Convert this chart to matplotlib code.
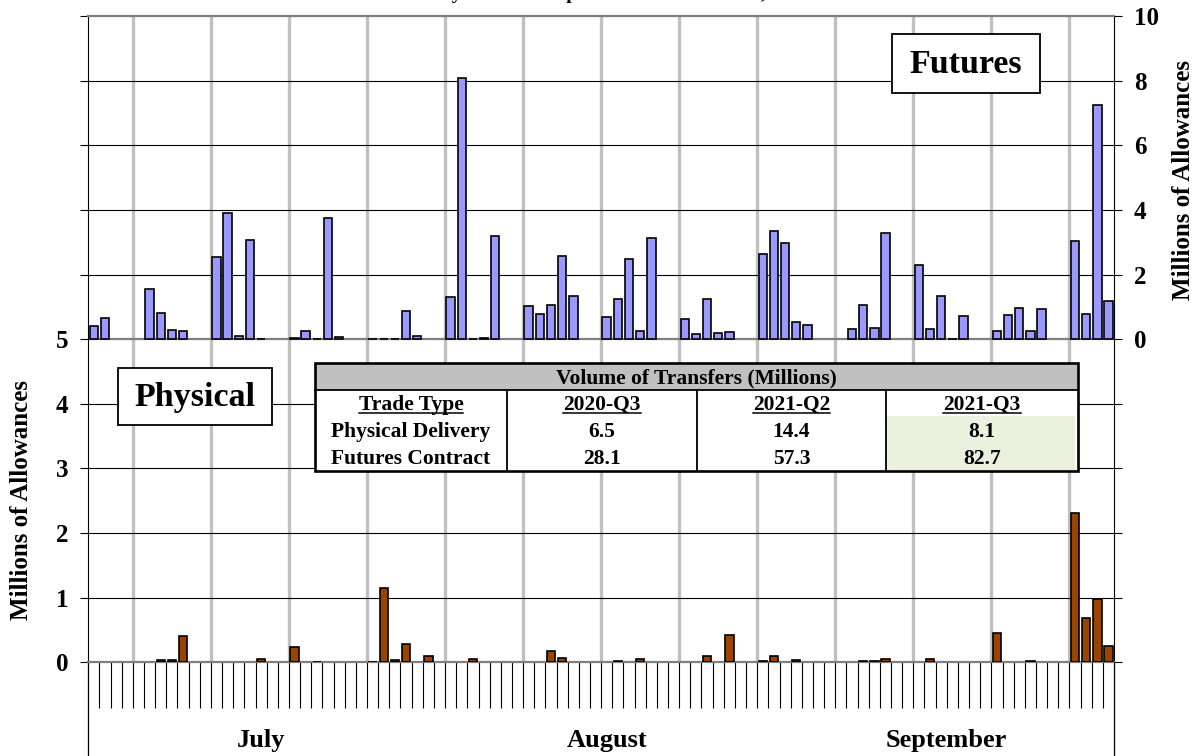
import numpy as np
import pandas as pd
import matplotlib
matplotlib.use("Agg")
import matplotlib.pyplot as plt
from matplotlib.patches import Rectangle

# ------------------------------------------------------------------ data
quarter_start = "2021-07-01"
quarter_end = "2021-09-30"
month_names = ["July", "August", "September"]
title_text = "Daily Volume of Spot and Futures Trades, 2021"

futures_dates = [
    "2021-07-01", "2021-07-02", "2021-07-06", "2021-07-07", "2021-07-08", "2021-07-09",
    "2021-07-12", "2021-07-13", "2021-07-14", "2021-07-15", "2021-07-16",
    "2021-07-19", "2021-07-20", "2021-07-21", "2021-07-22", "2021-07-23",
    "2021-07-26", "2021-07-27", "2021-07-28", "2021-07-29", "2021-07-30",
    "2021-08-02", "2021-08-03", "2021-08-04", "2021-08-05", "2021-08-06",
    "2021-08-09", "2021-08-10", "2021-08-11", "2021-08-12", "2021-08-13",
    "2021-08-16", "2021-08-17", "2021-08-18", "2021-08-19", "2021-08-20",
    "2021-08-23", "2021-08-24", "2021-08-25", "2021-08-26", "2021-08-27",
    "2021-08-30", "2021-08-31", "2021-09-01", "2021-09-02", "2021-09-03",
    "2021-09-07", "2021-09-08", "2021-09-09", "2021-09-10",
    "2021-09-13", "2021-09-14", "2021-09-15", "2021-09-16", "2021-09-17",
    "2021-09-20", "2021-09-21", "2021-09-22", "2021-09-23", "2021-09-24",
    "2021-09-27", "2021-09-28", "2021-09-29", "2021-09-30",
]
futures_volume = [
    0.40, 0.64, 1.54, 0.81, 0.28, 0.26,
    2.54, 3.89, 0.09, 3.06, 0.02,
    0.04, 0.24, 0.02, 3.76, 0.08,
    0.01, 0.01, 0.01, 0.87, 0.09,
    1.29, 8.08, 0.02, 0.03, 3.20,
    1.02, 0.79, 1.06, 2.58, 1.34,
    0.69, 1.23, 2.47, 0.25, 3.13,
    0.62, 0.15, 1.25, 0.19, 0.21,
    2.62, 3.34, 2.99, 0.52, 0.44,
    0.31, 1.05, 0.33, 3.27,
    2.29, 0.31, 1.34, 0.02, 0.72,
    0.25, 0.74, 0.97, 0.25, 0.93,
    3.05, 0.77, 7.25, 1.18,
]

physical_dates = [
    "2021-07-07", "2021-07-08", "2021-07-09", "2021-07-16", "2021-07-19", "2021-07-21",
    "2021-07-26", "2021-07-27", "2021-07-28", "2021-07-29", "2021-07-31",
    "2021-08-04", "2021-08-11", "2021-08-12", "2021-08-17", "2021-08-19", "2021-08-25",
    "2021-08-27", "2021-08-30", "2021-08-31",
    "2021-09-02", "2021-09-08", "2021-09-09", "2021-09-10", "2021-09-14", "2021-09-20",
    "2021-09-23", "2021-09-27", "2021-09-28", "2021-09-29", "2021-09-30",
]
physical_volume = [
    0.03, 0.03, 0.41, 0.05, 0.23, 0.01,
    0.01, 1.15, 0.03, 0.29, 0.09,
    0.05, 0.18, 0.06, 0.02, 0.05, 0.10,
    0.42, 0.02, 0.10,
    0.04, 0.02, 0.02, 0.05, 0.05, 0.46,
    0.02, 2.31, 0.69, 0.98, 0.25,
]

left_tick_values = [0, 1, 2, 3, 4, 5]
right_tick_values = [0, 2, 4, 6, 8, 10]

table_title = "Volume of Transfers (Millions)"
table_columns = ["Trade Type", "2020-Q3", "2021-Q2", "2021-Q3"]
table_row_names = ["Physical Delivery", "Futures Contract"]
physical_totals = ["6.5", "14.4", "8.1"]
futures_totals = ["28.1", "57.3", "82.7"]

# ------------------------------------------------------------------ style
W, H = 1199, 756
SERIF = ["Liberation Serif", "DejaVu Serif"]
FUT_COLOR = "#9999FF"
PHYS_COLOR = "#994400"
WEEK_COLOR = "#C0C0C0"

fig = plt.figure(figsize=(W / 100, H / 100), dpi=100)
fig.patch.set_facecolor("white")

px_l, px_r, px_t, px_b = 88.3, 1114.0, 16.0, 662.3
ax = fig.add_axes([px_l / W, 1 - px_b / H, (px_r - px_l) / W, (px_b - px_t) / H])
ax2 = ax.twinx()

days = pd.date_range(quarter_start, quarter_end, freq="D")
n_days = len(days)
start = pd.Timestamp(quarter_start)

def to_pos(dates):
    return np.array([(pd.Timestamp(d) - start).days for d in dates]) + 0.5

ax.set_xlim(0, n_days)
ax.set_ylim(0, 10)
ax2.set_ylim(-10, 10)

# week separators (before Mondays)
week_edges = [i for i, d in enumerate(days) if d.weekday() == 0]
for e in week_edges:
    ax.axvline(e, color=WEEK_COLOR, lw=2.4, zorder=0.5)

# horizontal gridlines
for lv in range(1, 10):
    if lv == 5:
        ax.axhline(lv, color="#7f7f7f", lw=1.6, zorder=0.9)
    else:
        ax.axhline(lv, color="black", lw=0.8, zorder=0.8)

# bars
bar_w = 0.76
ax.bar(to_pos(physical_dates), physical_volume, width=bar_w, color=PHYS_COLOR,
       edgecolor="black", linewidth=1.2, zorder=3)
ax2.bar(to_pos(futures_dates), futures_volume, width=bar_w, color=FUT_COLOR,
        edgecolor="black", linewidth=1.2, zorder=3)

# spines
for s in ["left", "right"]:
    ax.spines[s].set_color("black")
    ax.spines[s].set_linewidth(0.8)
for s in ["top", "bottom"]:
    ax.spines[s].set_color("#7f7f7f")
    ax.spines[s].set_linewidth(1.6)
for s in ax2.spines.values():
    s.set_visible(False)

# x ticks: every day boundary; month boundaries long
month_edges = [i for i, d in enumerate(days) if d.day == 1] + [n_days]
ax.set_xticks(np.arange(1, n_days))
ax.set_xticks(month_edges, minor=True)
ax.tick_params(axis="x", which="major", length=46 * 0.72, width=0.8, color="black",
               labelbottom=False, direction="out")
ax.tick_params(axis="x", which="minor", length=94 * 0.72, width=0.9, color="black",
               labelbottom=False, direction="out")

# left y ticks (primary): all integer levels, labels for lower panel only
ax.set_yticks(range(0, 11))
ax.set_yticklabels([str(v) if v in left_tick_values else "" for v in range(0, 11)])
ax.tick_params(axis="y", which="major", length=8 * 0.72, width=0.8, color="black",
               pad=8.5, labelsize=18, right=False)
for lab in ax.get_yticklabels():
    lab.set_fontfamily(SERIF)
    lab.set_fontweight("bold")

# right y ticks (secondary)
ax2.set_yticks(range(-10, 11, 2))
ax2.set_yticklabels([str(v) if v in right_tick_values else "" for v in range(-10, 11, 2)])
ax2.tick_params(axis="y", which="major", length=8 * 0.72, width=0.8, color="black",
                pad=8.5, labelsize=18)
for lab in ax2.get_yticklabels():
    lab.set_fontfamily(SERIF)
    lab.set_fontweight("bold")

# month labels
trans = ax.get_xaxis_transform()
for k, name in enumerate(month_names):
    c = (month_edges[k] + month_edges[k + 1]) / 2
    ax.text(c, -78 / (px_b - px_t), name, transform=trans, ha="center", va="center",
            fontsize=19, fontweight="bold", fontfamily=SERIF, clip_on=False)

# ------------------------------------------------------------------ overlay (pixel coords)
tax = fig.add_axes([0, 0, 1, 1], zorder=10)
tax.set_xlim(0, W)
tax.set_ylim(H, 0)
tax.axis("off")

# title (clipped at the top edge, as in the source image)
tax.text((px_l + px_r) / 2 + 12, -1.0, title_text, ha="center", va="baseline",
         fontsize=14, fontweight="bold", fontfamily=SERIF, clip_on=False)

# axis titles
tax.text(22, 500, "Millions of Allowances", rotation=90, ha="center", va="center",
         fontsize=18, fontweight="bold", fontfamily=SERIF)
tax.text(1184, 180, "Millions of Allowances", rotation=90, ha="center", va="center",
         fontsize=18, fontweight="bold", fontfamily=SERIF)

# labelled boxes
def label_box(x0, y0, x1, y1, text):
    tax.add_patch(Rectangle((x0, y0), x1 - x0, y1 - y0, facecolor="white",
                            edgecolor="black", lw=1.3, zorder=5))
    tax.text((x0 + x1) / 2, (y0 + y1) / 2 + 1, text, ha="center", va="center",
             fontsize=24.5, fontweight="bold", fontfamily=SERIF, zorder=6)

label_box(892, 34, 1040, 93, "Futures")
label_box(118, 368, 272, 425, "Physical")

# summary table
tx = [315, 507, 697, 886, 1078]
ty = [363, 390, 416, 443, 471]
tfs = 15.5
cap = 0.66 * tfs / 0.72
tax.add_patch(Rectangle((tx[0], ty[0]), tx[-1] - tx[0], ty[-1] - ty[0],
                        facecolor="white", edgecolor="none", zorder=5))
tax.add_patch(Rectangle((tx[0], ty[0]), tx[-1] - tx[0], ty[1] - ty[0],
                        facecolor="#C0C0C0", edgecolor="none", zorder=5))
tax.add_patch(Rectangle((tx[3], ty[2]), tx[4] - tx[3] - 3, ty[4] - ty[2] - 1,
                        facecolor="#EBF1DE", edgecolor="none", zorder=5))
tax.add_patch(Rectangle((tx[0], ty[0]), tx[-1] - tx[0], ty[-1] - ty[0],
                        facecolor="none", edgecolor="black", lw=1.9, zorder=7))
tax.plot([tx[0], tx[-1]], [ty[1], ty[1]], color="black", lw=1.3, zorder=7)
for xv in tx[1:4]:
    tax.plot([xv, xv], [ty[1], ty[-1]], color="black", lw=1.3, zorder=7)

def base(r0, r1):
    return (r0 + r1) / 2 + cap / 2

tax.text((tx[0] + tx[-1]) / 2, base(ty[0], ty[1]), table_title, ha="center", va="baseline",
         fontsize=tfs, fontweight="bold", fontfamily=SERIF, zorder=8)
header_texts = []
for j, col in enumerate(table_columns):
    t = tax.text((tx[j] + tx[j + 1]) / 2, base(ty[1], ty[2]), col, ha="center",
                 va="baseline", fontsize=tfs, fontweight="bold", fontfamily=SERIF, zorder=8)
    header_texts.append(t)
for i, (name, vals) in enumerate(zip(table_row_names, [physical_totals, futures_totals])):
    yb = base(ty[2 + i], ty[3 + i])
    tax.text((tx[0] + tx[1]) / 2, yb, name, ha="center", va="baseline",
             fontsize=tfs, fontweight="bold", fontfamily=SERIF, zorder=8)
    for j, v in enumerate(vals):
        tax.text((tx[j + 1] + tx[j + 2]) / 2, yb, v, ha="center", va="baseline",
                 fontsize=tfs, fontweight="bold", fontfamily=SERIF, zorder=8)

# underline column headers
fig.canvas.draw()
inv = tax.transData.inverted()
for t in header_texts:
    bb = t.get_window_extent()
    (x0, _), (x1, _) = inv.transform([[bb.x0, bb.y0], [bb.x1, bb.y1]])
    yb = t.get_position()[1] + 2.5
    tax.plot([x0, x1], [yb, yb], color="black", lw=1.1, zorder=8)

fig.savefig("out.png", dpi=100)
